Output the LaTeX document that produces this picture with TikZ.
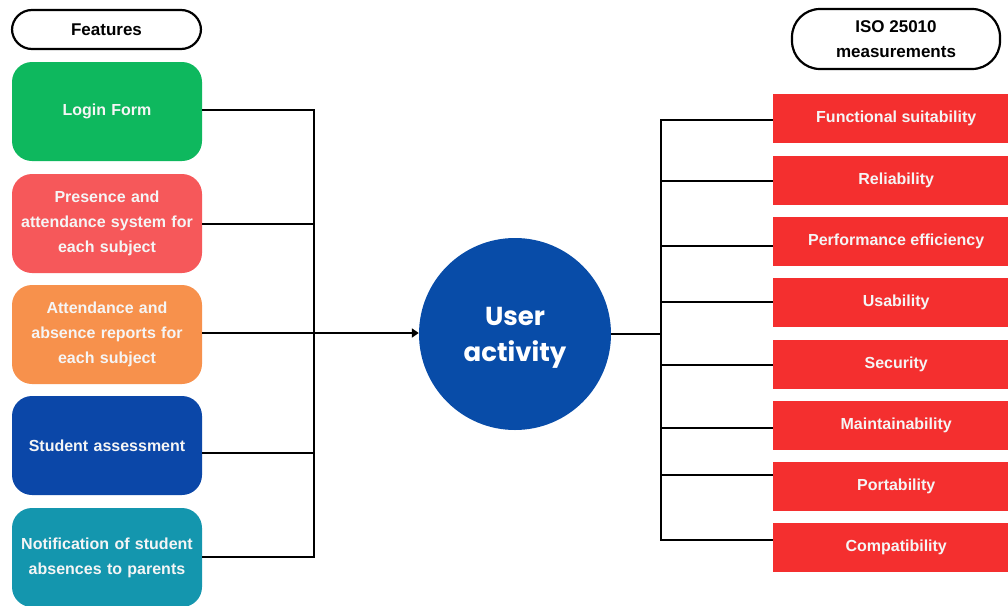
\documentclass[tikz,border=0pt]{standalone}
\usepackage{fontspec}
\setmainfont{Liberation Sans}
\newfontfamily\popfont{Poppins}
\usetikzlibrary{arrows.meta}
\definecolor{cgreen}{RGB}{14,184,94}
\definecolor{cpink}{RGB}{246,88,90}
\definecolor{corange}{RGB}{247,145,76}
\definecolor{cnavy}{RGB}{11,71,168}
\definecolor{cteal}{RGB}{20,150,174}
\definecolor{ccircle}{RGB}{8,76,168}
\definecolor{cred}{RGB}{244,47,47}
\definecolor{ctext}{RGB}{245,245,245}
\tikzset{
  featbox/.style={rounded corners=20pt, minimum width=190pt, minimum height=99pt, text width=188pt, align=center, text=ctext, font=\bfseries\fontsize{16}{25}\selectfont, inner sep=0pt},
  isobox/.style={fill=cred, minimum width=246pt, minimum height=49pt, anchor=west, text=ctext, font=\bfseries\fontsize{16}{18}\selectfont, inner sep=0pt},
  pill/.style={draw=black, line width=2.2pt, rounded corners=20pt, align=center, font=\bfseries\fontsize{17}{25}\selectfont, inner sep=0pt},
  conn/.style={draw=black, line width=2.3pt},
}
\begin{document}
\begin{tikzpicture}[x=1pt,y=-1pt]
\useasboundingbox (0,0) rectangle (1008,605);
% headers
\node[pill, minimum width=189pt, minimum height=39pt] (feat) at (106.5,29.5) {Features};
\node[pill, minimum width=208pt, minimum height=60pt, rounded corners=28pt] (iso) at (896,39) {ISO 25010\\measurements};
% feature boxes
\node[featbox, fill=cgreen] (f1) at (107,111.5) {\raisebox{-1.5pt}{Login Form}};
\node[featbox, fill=cpink] (f2) at (107,223.5) {Presence and\\attendance system for\\each subject};
\node[featbox, fill=corange] (f3) at (107,334.5) {Attendance and\\absence reports for\\each subject};
\node[featbox, fill=cnavy] (f4) at (107,445.5) {\raisebox{-1.5pt}{Student assessment}};
\node[featbox, fill=cteal] (f5) at (107,557.5) {Notification of student\\absences to parents};
% circle
\node[circle, fill=ccircle, minimum size=192pt, inner sep=0pt] (ua) at (515,334) {};
\node[align=center, text=white, inner sep=0pt, font=\popfont\bfseries\fontsize{26}{36}\selectfont] (ualbl) at ([yshift=-4pt]ua.center) {User\\activity};
% iso boxes
\node[isobox] (m1) at (773,118.5) {Functional suitability};
\node[isobox] (m2) at (773,180) {Reliability};
\node[isobox] (m3) at (773,241.5) {Performance efficiency};
\node[isobox] (m4) at (773,302.5) {Usability};
\node[isobox] (m5) at (773,364) {Security};
\node[isobox] (m6) at (773,425) {Maintainability};
\node[isobox] (m7) at (773,486.5) {Portability};
\node[isobox] (m8) at (773,547.5) {Compatibility};
% left trunk
\coordinate (lt1) at (314,110);
\coordinate (lt2) at (314,224);
\coordinate (lt3) at (314,333);
\coordinate (lt4) at (314,453);
\coordinate (lt5) at (314,557);
\draw[conn] (f1.east |- lt1) -- (lt1);
\draw[conn] (f2.east |- lt2) -- (lt2);
\draw[conn] (f3.east |- lt3) -- (lt3);
\draw[conn] (f4.east |- lt4) -- (lt4);
\draw[conn] (f5.east |- lt5) -- (lt5);
\draw[conn, line cap=rect] (lt1) -- (lt5);
\draw[conn, -{Triangle[length=7pt,width=9pt]}] (lt3) -- (ua.west |- lt3);
% right trunk
\coordinate (rt0) at (661,334);
\coordinate (rt1) at (661,120);
\coordinate (rt2) at (661,181);
\coordinate (rt3) at (661,246);
\coordinate (rt4) at (661,302);
\coordinate (rt5) at (661,365);
\coordinate (rt6) at (661,428);
\coordinate (rt7) at (661,475);
\coordinate (rt8) at (661,540);
\draw[conn] (ua.east |- rt0) -- (rt0);
\draw[conn, line cap=rect] (rt1) -- (rt8);
\draw[conn] (rt1) -- (m1.west |- rt1);
\draw[conn] (rt2) -- (m2.west |- rt2);
\draw[conn] (rt3) -- (m3.west |- rt3);
\draw[conn] (rt4) -- (m4.west |- rt4);
\draw[conn] (rt5) -- (m5.west |- rt5);
\draw[conn] (rt6) -- (m6.west |- rt6);
\draw[conn] (rt7) -- (m7.west |- rt7);
\draw[conn] (rt8) -- (m8.west |- rt8);
\end{tikzpicture}
\end{document}
